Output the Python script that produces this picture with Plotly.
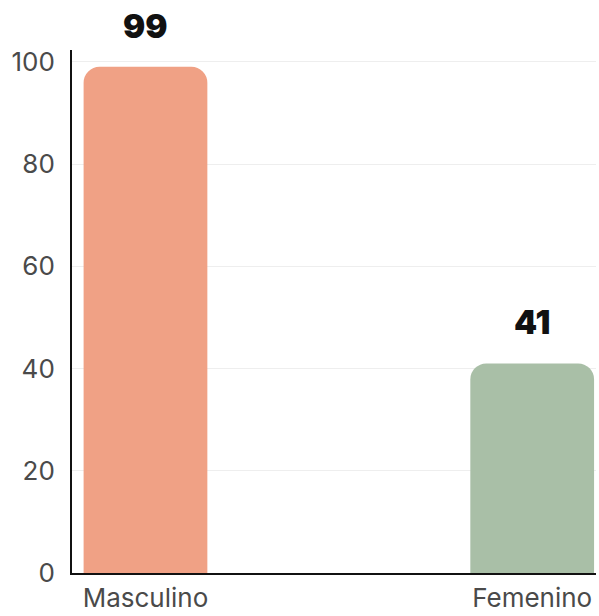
import plotly.graph_objects as go

# Counts by sex
categories = ["Masculino", "Femenino"]
values = [99, 41]
bar_colors = ["#F0A185", "#A9BFA7"]
y_ticks = [0, 20, 40, 60, 80, 100]

fig = go.Figure()
fig.add_trace(go.Bar(
    x=list(range(len(categories))),
    y=values,
    marker=dict(color=bar_colors, line=dict(width=0)),
    width=0.32,
    hoverinfo="skip",
))

# Value labels above each bar
for i, v in enumerate(values):
    fig.add_annotation(
        x=i, y=v, text=str(v), showarrow=False,
        yanchor="bottom", yshift=19,
        font=dict(family="Inter", size=33, color="#111111", weight=900),
    )

fig.update_layout(
    width=599, height=616,
    margin=dict(l=72, r=3, t=50, b=41),
    paper_bgcolor="white", plot_bgcolor="white",
    barcornerradius=16,
    showlegend=False,
    font=dict(family="Inter", color="#4a4a4a"),
)
fig.update_xaxes(
    range=[-0.19, 1.165],
    tickvals=list(range(len(categories))),
    ticktext=categories,
    tickfont=dict(size=26, color="#4a4a4a"),
    showline=True, linecolor="#111111", linewidth=2,
    showgrid=False, ticks="", zeroline=False,
    ticklabelstandoff=1,
)
fig.update_yaxes(
    range=[0, 102.3],
    tickvals=y_ticks,
    tickfont=dict(size=26, color="#4a4a4a"),
    showline=True, linecolor="#111111", linewidth=2,
    showgrid=True, gridcolor="#EEEEEE", gridwidth=1,
    ticks="", ticklabelstandoff=10, zeroline=False,
)

fig.write_html("out.html")
